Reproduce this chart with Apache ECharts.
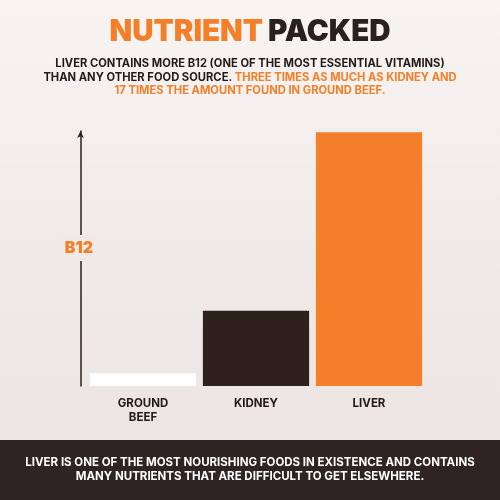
<!DOCTYPE html>
<html>
<head>
<meta charset="utf-8">
<script src="https://cdn.jsdelivr.net/npm/echarts@6/dist/echarts.min.js"></script>
<style>
  html, body { margin: 0; padding: 0; }
  #chart { width: 500px; height: 500px; }
</style>
</head>
<body>
<div id="chart"></div>
<script>
// data (relative B12 content, axis top = 100)
var categories = ["GROUND\nBEEF", "KIDNEY", "LIVER"];
var b12Values = [5, 29.5, 99.5];
var barColors = ["#ffffff", "#2e201c", "#f47f28"];

var subtitleLines = [
  [["d", "LIVER CONTAINS MORE B12 (ONE OF THE MOST ESSENTIAL VITAMINS)"]],
  [["d", "THAN ANY OTHER FOOD SOURCE. "], ["o", "THREE TIMES AS MUCH AS KIDNEY AND"]],
  [["o", "17 TIMES THE AMOUNT FOUND IN GROUND BEEF."]]
];
var footerLines = [
  "LIVER IS ONE OF THE MOST NOURISHING FOODS IN EXISTENCE AND CONTAINS",
  "MANY NUTRIENTS THAT ARE DIFFICULT TO GET ELSEWHERE."
];

var chart = echarts.init(document.getElementById("chart"));

var ORANGE = "#f47f28";
var DARK = "#231a18";

function richLine(parts) {
  return parts.map(function (p) {
    return "{" + p[0] + "|" + p[1] + "}";
  }).join("");
}

var subtitleGraphics = subtitleLines.map(function (line, i) {
  return {
    type: "text",
    left: "center",
    top: 58 + i * 13.7,
    style: {
      text: richLine(line),
      rich: {
        d: { fill: DARK, fontFamily: "Inter", fontWeight: 700, fontSize: 11.2 },
        o: { fill: ORANGE, fontFamily: "Inter", fontWeight: 700, fontSize: 11.2 }
      }
    }
  };
});

var footerGraphics = footerLines.map(function (line, i) {
  return {
    type: "text",
    left: "center",
    top: 457 + i * 13.7,
    z: 10,
    style: {
      text: line,
      fill: "#ffffff",
      fontFamily: "Inter",
      fontWeight: 700,
      fontSize: 11.5
    }
  };
});

var option = {
  backgroundColor: new echarts.graphic.LinearGradient(0, 0, 0, 1, [
    { offset: 0, color: "#f7f4f2" },
    { offset: 0.5, color: "#f0eae9" },
    { offset: 1, color: "#ece3e2" }
  ]),
  title: {
    text: "{o|NUTRIENT} {d|PACKED}",
    left: "center",
    top: 12,
    textStyle: {
      rich: {
        o: { color: ORANGE, fontFamily: "Inter", fontWeight: 900, fontSize: 29.5 },
        d: { color: "#2a201d", fontFamily: "Inter", fontWeight: 900, fontSize: 29.5 }
      }
    }
  },
  grid: {
    left: 86.5,
    right: 74.5,
    top: 131,
    bottom: 114,
    containLabel: false
  },
  xAxis: {
    type: "category",
    data: categories,
    axisLine: { show: false },
    axisTick: { show: false },
    axisLabel: {
      margin: 11,
      color: DARK,
      fontFamily: "Inter",
      fontWeight: 700,
      fontSize: 11.5,
      lineHeight: 13.5
    }
  },
  yAxis: {
    type: "value",
    min: 0,
    max: 100,
    offset: 6,
    axisLine: {
      show: true,
      symbol: ["none", "arrow"],
      symbolSize: [5, 7],
      lineStyle: { color: "#2a1f1c", width: 1.5 }
    },
    axisTick: { show: false },
    axisLabel: { show: false },
    splitLine: { show: false }
  },
  series: [
    {
      type: "bar",
      barCategoryGap: "6%",
      data: b12Values.map(function (v, i) {
        return { value: v, itemStyle: { color: barColors[i] } };
      })
    }
  ],
  graphic: [
    {
      type: "text",
      x: 79,
      y: 248,
      z: 10,
      style: {
        text: "B12",
        fill: ORANGE,
        fontFamily: "Inter",
        fontWeight: 900,
        fontSize: 16,
        align: "center",
        verticalAlign: "middle",
        backgroundColor: "#efe9e8",
        padding: [5, 1]
      }
    },
    {
      type: "rect",
      left: 0,
      top: 440,
      z: 5,
      shape: { width: 500, height: 60 },
      style: { fill: "#2f2421" }
    }
  ].concat(subtitleGraphics, footerGraphics)
};

chart.setOption(option);
</script>
</body>
</html>
